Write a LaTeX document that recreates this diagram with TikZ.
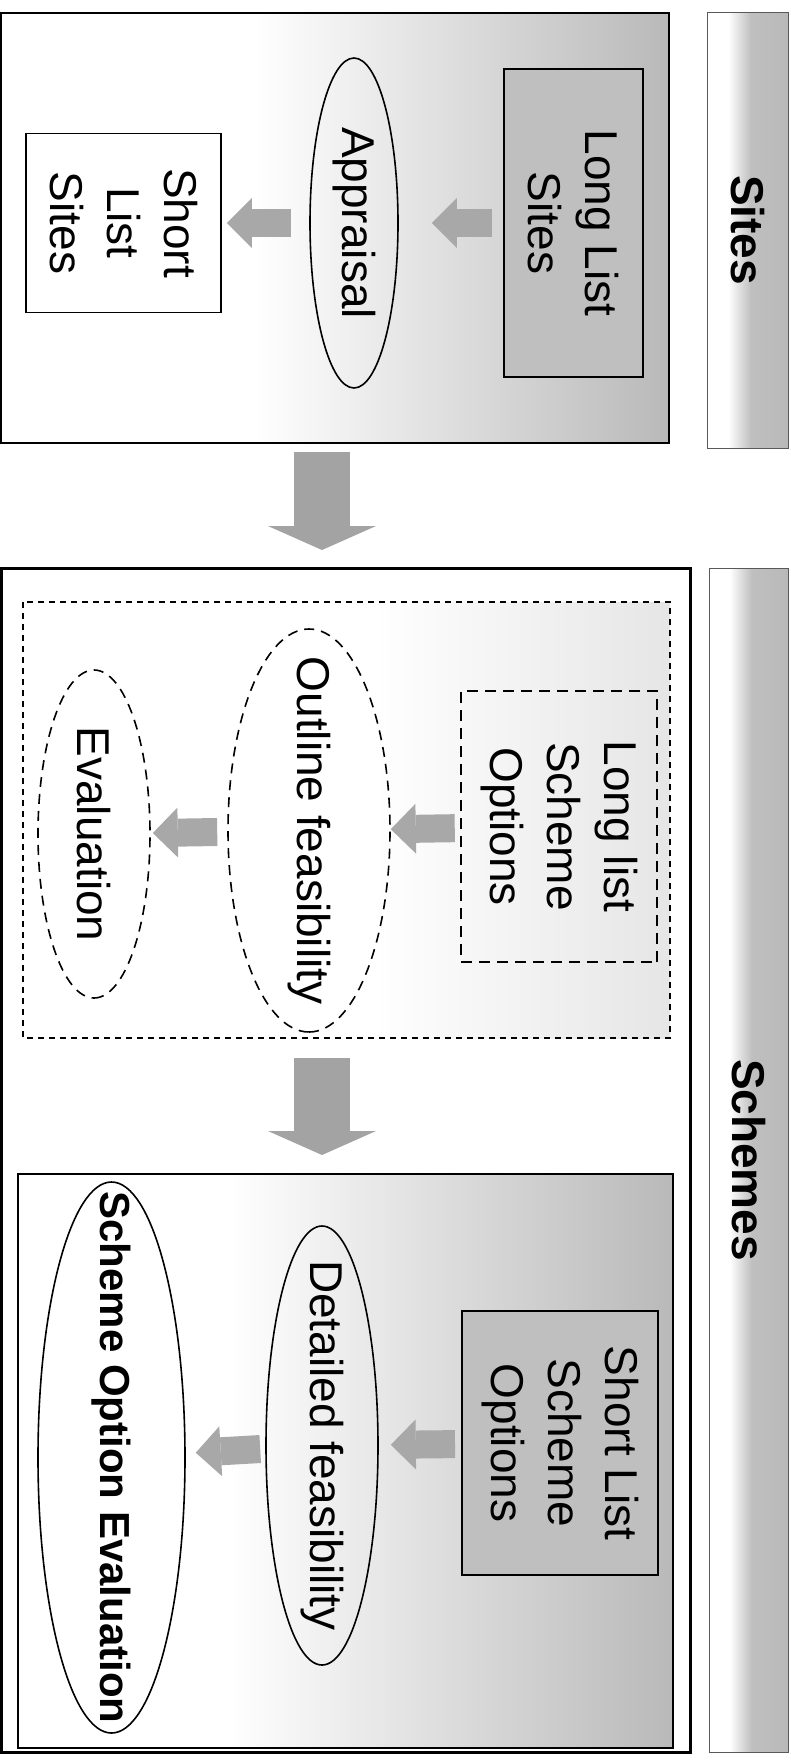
\documentclass[tikz,border=0pt]{standalone}
\usepackage{fontspec}
\setmainfont{Liberation Sans}
\usetikzlibrary{shapes.geometric,arrows.meta}
\pgfdeclarehorizontalshading{sitefade}{100bp}{color(0bp)=(white); color(25bp)=(white); color(44bp)=(white); color(75bp)=(gray!55); color(100bp)=(gray!55)}
\pgfdeclarehorizontalshading{outlinefade}{100bp}{color(0bp)=(white); color(25bp)=(white); color(52bp)=(white); color(75bp)=(gray!20); color(100bp)=(gray!20)}
\pgfdeclarehorizontalshading{detailfade}{100bp}{color(0bp)=(white); color(25bp)=(white); color(41bp)=(white); color(75bp)=(gray!55); color(100bp)=(gray!55)}
\pgfdeclarehorizontalshading{headfade}{100bp}{color(0bp)=(white); color(25bp)=(white); color(38bp)=(white); color(52bp)=(gray!50); color(75bp)=(gray!55); color(100bp)=(gray!55)}
\tikzset{
  txt/.style={rotate=-90, align=center, inner sep=0pt, font=\fontsize{46}{57}\selectfont},
  headtxt/.style={txt, font=\fontsize{46}{57}\selectfont\bfseries},
  listbox/.style={txt, draw, line width=2pt, fill=gray!50},
  whitebox/.style={txt, draw, line width=1.8pt, fill=white},
  dashbox/.style={txt, draw, line width=2.5pt, dash pattern=on 11pt off 7pt},
  stageoval/.style={txt, ellipse, draw, line width=1.6pt},
  dashoval/.style={stageoval, dash pattern=on 10pt off 7pt},
  flowarrow/.style={draw=gray!68, line width=28pt, -{Triangle[width=50pt,length=25pt,line width=0pt]}},
  stagearrow/.style={draw=gray!72, line width=56pt, -{Triangle[width=108pt,length=24pt,line width=0pt]}},
}
\begin{document}
\begin{tikzpicture}[x=1pt,y=-1pt]
\path[fill=white,use as bounding box] (0,0) rectangle (791,1761);
% sites
\shade[shading=sitefade] (0.75,13) rectangle (669,443);
\draw[line width=1.5pt] (0.75,13) rectangle (669,443);
\shade[shading=headfade] (707,13) rectangle (788,448);
\draw[gray!70!black, line width=1pt] (707,13) rectangle (788,448);
\node[headtxt] (sitestitle) at (747.5,230) {Sites};
\node[listbox, minimum width=308pt, minimum height=139pt] (longsites) at (573.5,223) {Long List\\Sites};
\node[stageoval, minimum width=330pt, minimum height=88pt] (appraisal) at (354,223) {Appraisal};
\node[whitebox, minimum width=179pt, minimum height=195pt] (shortsites) at (123.5,223) {Short\\List\\Sites};
\draw[flowarrow, shorten <=11pt, shorten >=33pt] (longsites) -- (appraisal);
\draw[flowarrow, shorten <=18pt, shorten >=5pt] (appraisal) -- (shortsites);
\coordinate (sitesfoot) at (322,443);
\coordinate (schemestop) at (322,568);
\draw[stagearrow, shorten <=9pt, shorten >=18pt] (sitesfoot) -- (schemestop);
% schemes
\draw[line width=3pt] (1.5,568) rectangle (690,1752);
\shade[shading=headfade] (709,568) rectangle (788,1752);
\draw[gray!70!black, line width=1pt] (709,568) rectangle (788,1752);
\node[headtxt] (schemestitle) at (748.5,1160) {Schemes};
% outline stage
\shade[shading=outlinefade] (23,602) rectangle (670,1038);
\draw[line width=1.5pt, dash pattern=on 6pt off 5pt] (23,602) rectangle (670,1038);
\node[dashbox, minimum width=271pt, minimum height=196pt] (longschemes) at (559,826.5) {Long list\\Scheme\\Options};
\node[dashoval, minimum width=403pt, minimum height=162pt] (outline) at (309,830.5) {};
\node[txt] (outlinetext) at (outline) {Outline feasibility};
\node[dashoval, minimum width=328pt, minimum height=112pt] (evaluation) at (94,834) {Evaluation};
\draw[flowarrow, shorten <=5pt] (longschemes) -- (outline);
\draw[flowarrow, shorten <=10pt, shorten >=2pt] (outline) -- (evaluation);
\coordinate (outlinefoot) at (322,1038);
\coordinate (detailtop) at (322,1174);
\draw[stagearrow, shorten <=20pt, shorten >=19pt] (outlinefoot) -- (detailtop);
% detailed stage
\shade[shading=detailfade] (18,1174) rectangle (673,1748);
\draw[line width=2pt] (18,1174) rectangle (673,1748);
\node[listbox, minimum width=264pt, minimum height=196pt] (shortschemes) at (560,1443) {Short List\\Scheme\\Options};
\node[stageoval, minimum width=439pt, minimum height=112pt] (detailed) at (322,1445.5) {};
\node[txt] (detailedtext) at (detailed) {Detailed feasibility};
\node[stageoval, minimum width=551pt, minimum height=147pt, fill=white] (soe) at (111.5,1457.5) {};
\node[txt, font=\fontsize{42}{50}\selectfont\bfseries] (soetext) at (soe) {Scheme Option Evaluation};
\draw[flowarrow, shorten <=6pt, shorten >=12pt] (shortschemes) -- (detailed);
\draw[flowarrow, shorten <=5pt, shorten >=10pt] (detailed) -- (soe);
\end{tikzpicture}
\end{document}
